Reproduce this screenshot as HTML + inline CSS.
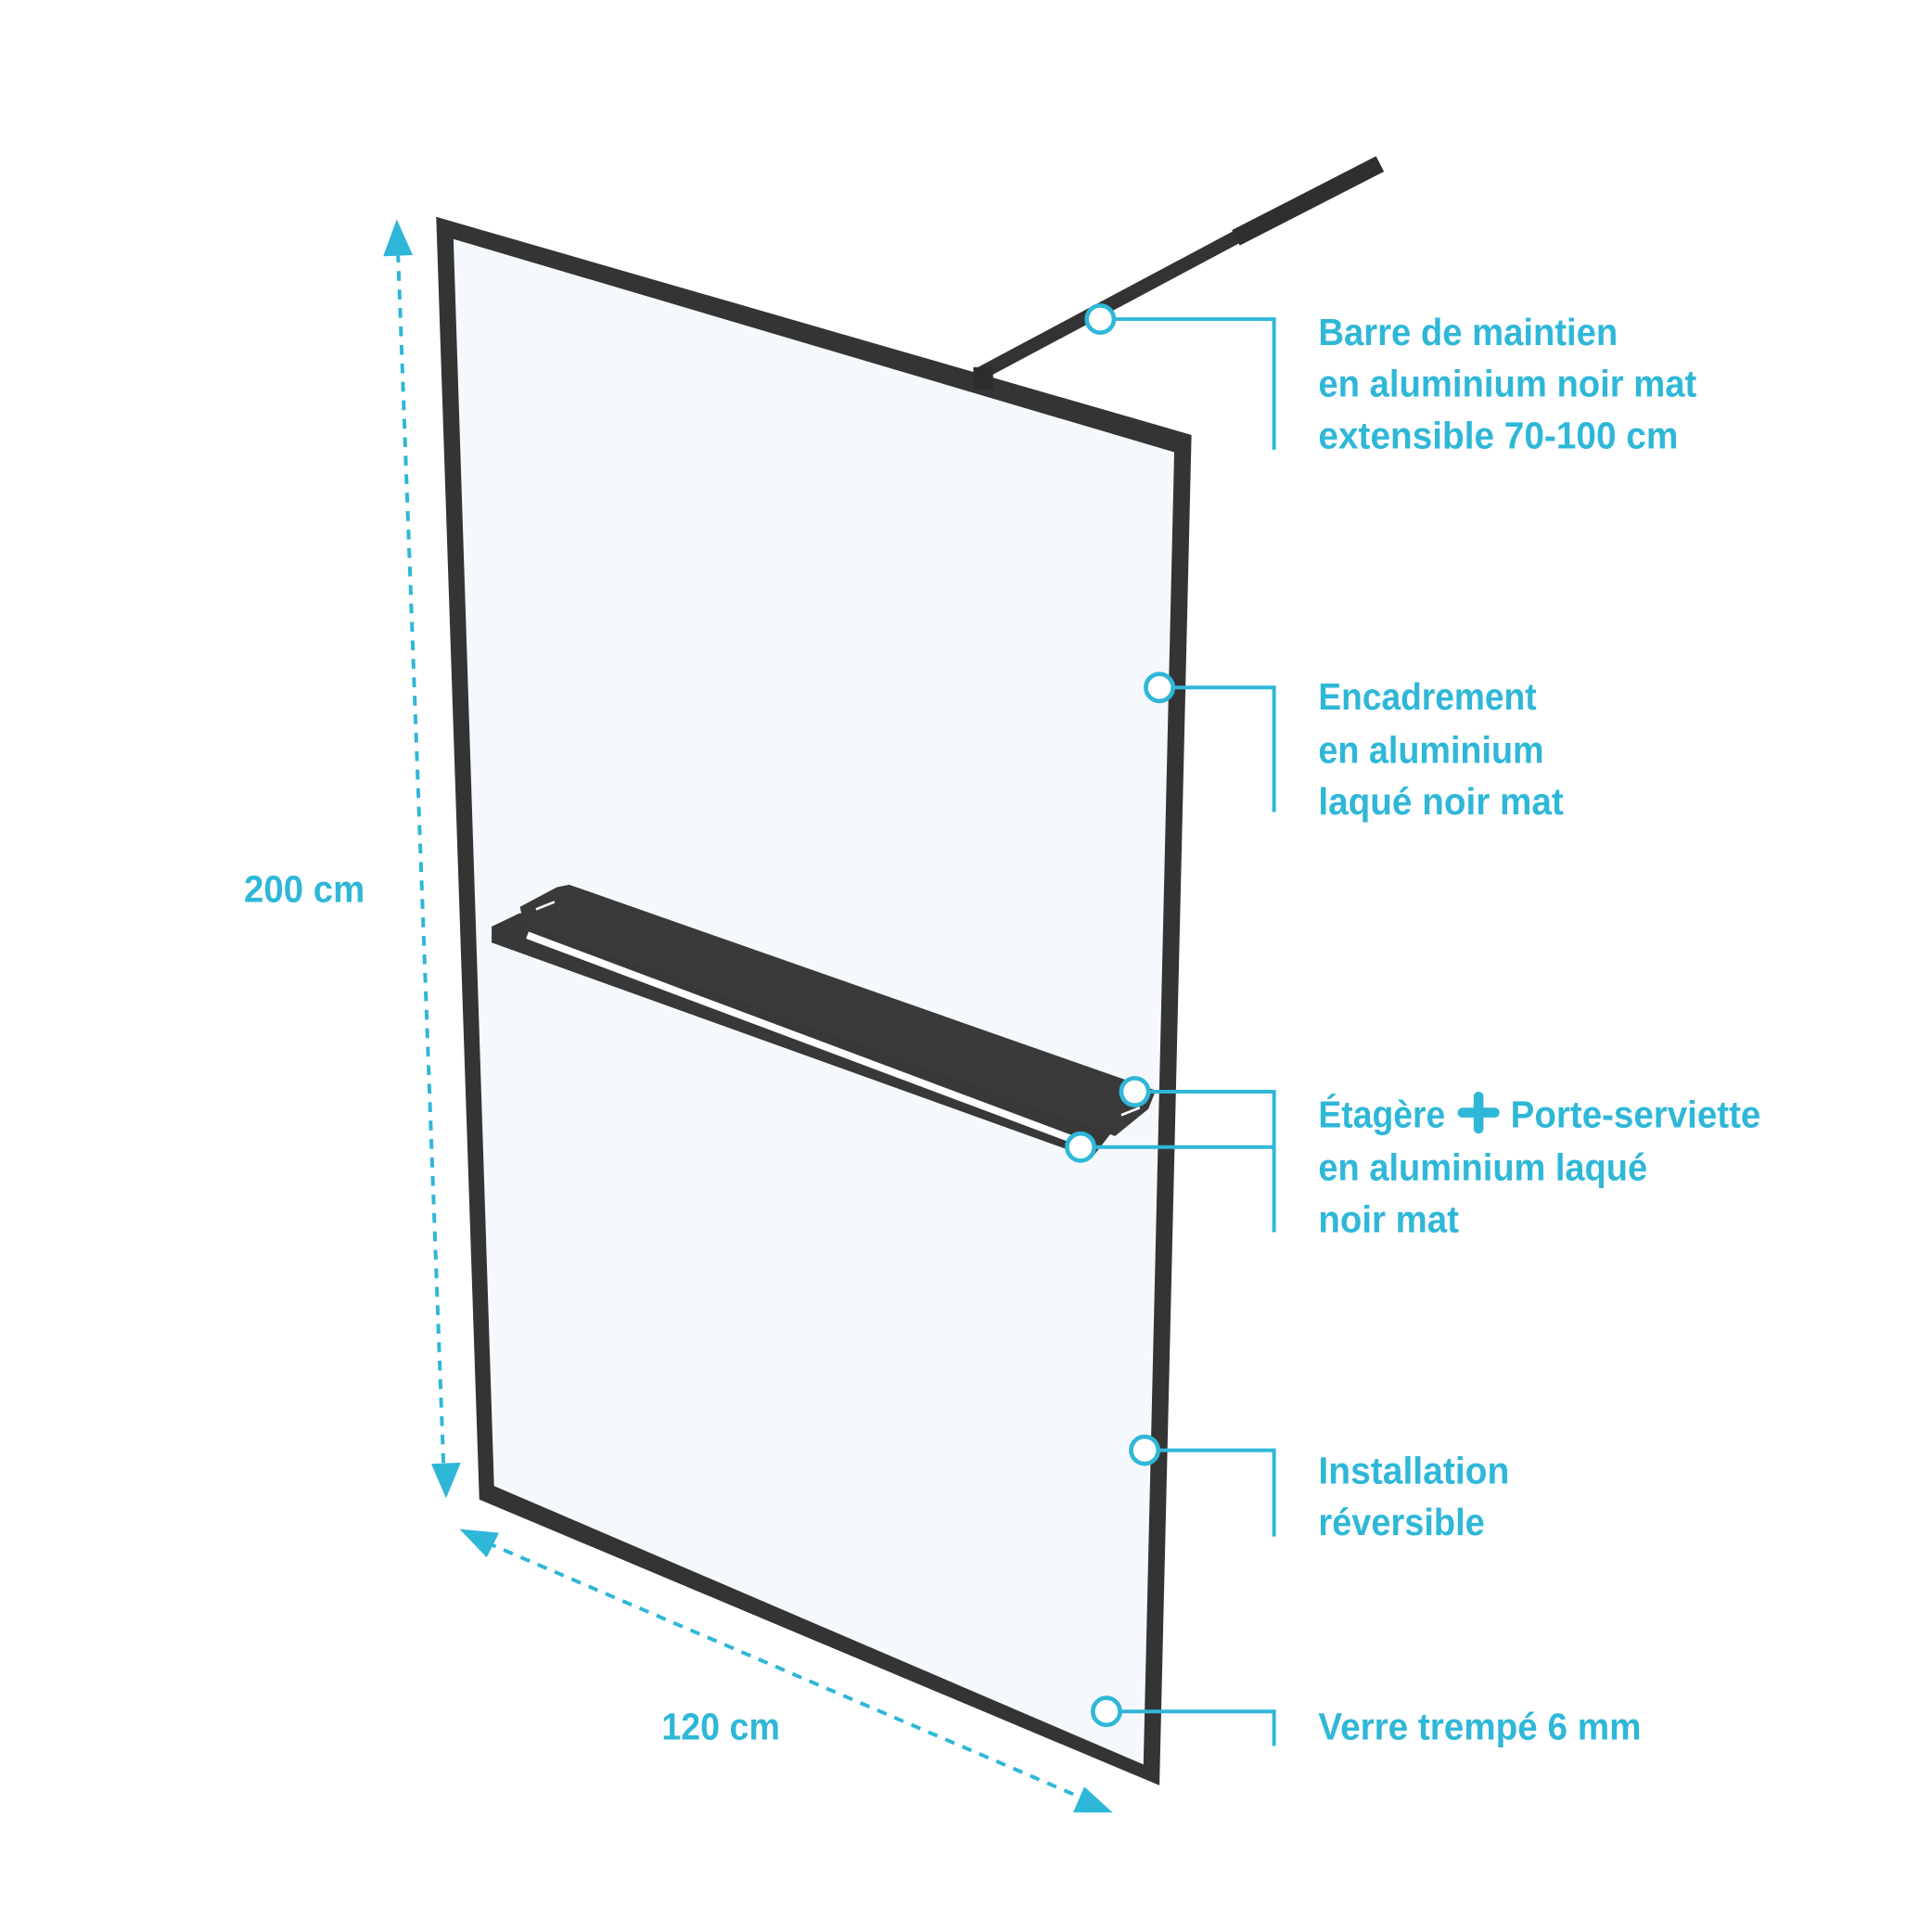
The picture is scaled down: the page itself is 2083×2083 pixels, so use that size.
<!DOCTYPE html>
<html><head><meta charset="utf-8"><style>
html,body{margin:0;padding:0;background:#fff;}
svg{display:block;}
text{font-family:"Liberation Sans Narrow","Liberation Sans",sans-serif;fill:#2fb7d8;font-size:31px;font-weight:bold;}
</style></head><body>
<svg width="2083" height="2083" viewBox="0 0 1568 1568" xmlns="http://www.w3.org/2000/svg">
<rect width="1568" height="1568" fill="#fff"/>
<!-- wall bar -->
<line x1="796" y1="303" x2="1008" y2="190" stroke="#333" stroke-width="11"/>
<line x1="1003" y1="193" x2="1120" y2="133" stroke="#2f2f2f" stroke-width="14"/>
<!-- frame -->
<polygon points="354,176 967,353 941,1449 389,1217" fill="#343434"/>
<polygon points="368,194 953,367 928,1432 401,1206" fill="#f5f9fd"/>
<rect x="790" y="298" width="16" height="18" fill="#2c2c2c"/>
<!-- towel rail -->
<polygon points="399,752 422,741 903,918 886,940 399,765" fill="#383838"/>
<line x1="428" y1="759" x2="882" y2="929" stroke="#fff" stroke-width="6"/>
<!-- shelf -->
<polygon points="452,720 462,718 938,885 932,900 905,922 425,750 422,736" fill="#3a3a3a"/>
<line x1="435" y1="738" x2="450" y2="732" stroke="#fff" stroke-width="2"/>
<line x1="910" y1="905" x2="925" y2="899" stroke="#fff" stroke-width="2"/>
<!-- dimensions -->
<g stroke="#2fb7d8" stroke-width="3" stroke-dasharray="8,7" fill="none">
<line x1="323" y1="205" x2="360" y2="1190"/>
<line x1="395" y1="1252" x2="880" y2="1460"/>
</g>
<g fill="#2fb7d8">
<polygon points="322,178 311,208 335,207"/>
<polygon points="362,1216 350,1188 374,1187"/>
<polygon points="373,1241 405,1244 395,1264"/>
<polygon points="903,1471 871,1471 880,1450"/>
</g>
<text x="198" y="732" textLength="98" lengthAdjust="spacingAndGlyphs">200 cm</text>
<text x="537" y="1412" textLength="96" lengthAdjust="spacingAndGlyphs">120 cm</text>
<!-- callouts -->
<g stroke="#2fb7d8" stroke-width="3" fill="none">
<polyline points="904,259 1034,259 1034,365"/>
<polyline points="952,558 1034,558 1034,659"/>
<polyline points="932,886 1034,886 1034,1000"/>
<line x1="888" y1="931" x2="1034" y2="931"/>
<polyline points="940,1177 1034,1177 1034,1247"/>
<polyline points="909,1389 1034,1389 1034,1417"/>
</g>
<g stroke="#2fb7d8" stroke-width="3.5" fill="#fff">
<circle cx="893" cy="259" r="11"/>
<circle cx="941" cy="558" r="11"/>
<circle cx="921" cy="886" r="11"/>
<circle cx="877" cy="931" r="11"/>
<circle cx="929" cy="1177" r="11"/>
<circle cx="898" cy="1389" r="11"/>
</g>
<text x="1070" y="280" textLength="243" lengthAdjust="spacingAndGlyphs">Barre de maintien</text>
<text x="1070" y="322" textLength="307" lengthAdjust="spacingAndGlyphs">en aluminium noir mat</text>
<text x="1070" y="364" textLength="292" lengthAdjust="spacingAndGlyphs">extensible 70-100 cm</text>
<text x="1070" y="576" textLength="177" lengthAdjust="spacingAndGlyphs">Encadrement</text>
<text x="1070" y="619" textLength="183" lengthAdjust="spacingAndGlyphs">en aluminium</text>
<text x="1070" y="661" textLength="199" lengthAdjust="spacingAndGlyphs">laqué noir mat</text>
<text x="1070" y="915" textLength="103" lengthAdjust="spacingAndGlyphs">Étagère</text>
<path d="M1187,903 H1213 M1200,890 V916" stroke="#2fb7d8" stroke-width="8" stroke-linecap="round"/>
<text x="1226" y="915" textLength="203" lengthAdjust="spacingAndGlyphs">Porte-serviette</text>
<text x="1070" y="958" textLength="267" lengthAdjust="spacingAndGlyphs">en aluminium laqué</text>
<text x="1070" y="1000" textLength="114" lengthAdjust="spacingAndGlyphs">noir mat</text>
<text x="1070" y="1204" textLength="155" lengthAdjust="spacingAndGlyphs">Installation</text>
<text x="1070" y="1246" textLength="135" lengthAdjust="spacingAndGlyphs">réversible</text>
<text x="1070" y="1412" textLength="262" lengthAdjust="spacingAndGlyphs">Verre trempé 6 mm</text>
</svg>
</body></html>
